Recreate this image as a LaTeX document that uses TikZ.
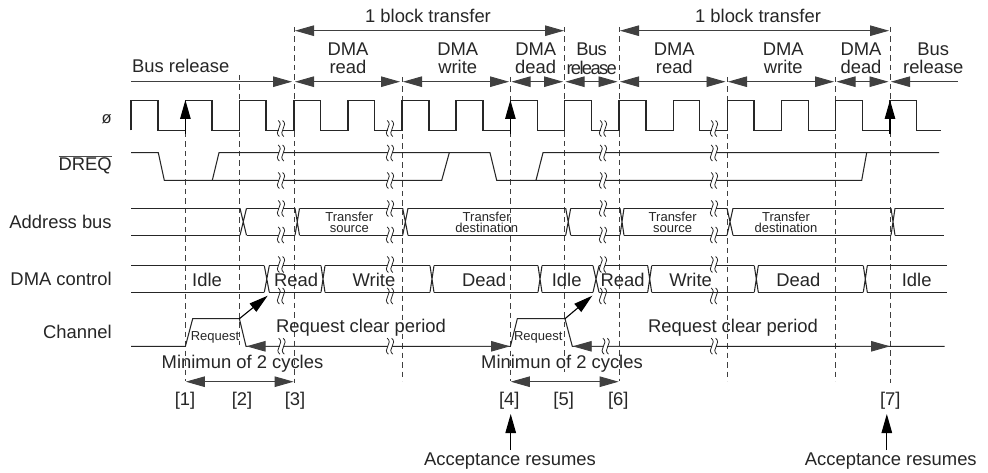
\documentclass[tikz,border=0pt]{standalone}
\usepackage{fontspec}
\setmainfont{Liberation Sans}
\usetikzlibrary{arrows.meta}
\tikzset{
  every node/.style={inner sep=0pt,outer sep=0pt,text=black!85},
  lbl/.style={font=\fontsize{18.4}{18}\selectfont,align=center},
  rlbl/.style={lbl,anchor=east},
  small/.style={font=\fontsize{13}{11}\selectfont,align=center},
  wave/.style={line width=1.05pt,line join=miter,black!85},
  guide/.style={line width=1pt,dash pattern=on 5.5pt off 4pt,black!75},
  shaft/.style={line width=0.9pt,black!75},
  head/.style={{Triangle[length=19pt,width=10.5pt]}-},
  tail/.style={-{Triangle[length=19pt,width=10.5pt]}},
  both/.style={{Triangle[length=19pt,width=10.5pt]}-{Triangle[length=19pt,width=10.5pt]}},
  brkline/.style={line width=0.8pt,black!85},
  brk/.pic={
    \fill[white] (-1.6,-3.5) rectangle (1.6,3.5);
    \foreach \d in {-2.2,2.2}{
      \draw[brkline] (\d-0.6,-8) .. controls (\d+2.2,-6) and (\d+1.8,-2.5) .. (\d,0) .. controls (\d-1.8,2.5) and (\d-2.2,6) .. (\d+0.6,8);
    }
  }
}
\newcommand{\busx}[4]{% x1 x2 top bottom
  \draw[wave] (#1,#3) -- (#2,#4) (#1,#4) -- (#2,#3);}
\begin{document}
\begin{tikzpicture}[x=1pt,y=-1pt]
\path[use as bounding box,fill=white] (0,0) rectangle (988,473);

% guides
\draw[guide] (185.4,132) -- (185.4,381);
\draw[guide] (239.4,75) -- (239.4,345);
\draw[guide] (294,27) -- (294,383);
\draw[guide] (402,77) -- (402,381);
\draw[guide] (510.4,77) -- (510.4,100);
\draw[guide] (510.4,132) -- (510.4,381);
\draw[guide] (564.7,27) -- (564.7,372);
\draw[guide] (619,27) -- (619,381);
\draw[guide] (727.3,77) -- (727.3,381);
\draw[guide] (835.7,77) -- (835.7,381);
\draw[guide] (890,27) -- (890,383);

% clock
\draw[wave] (131,130.3) -- (131,100.3) -- (158,100.3) -- (158,130.3) -- (185.4,130.3) -- (185.4,100.3) -- (212,100.3) -- (212,130.3) -- (239.4,130.3) -- (239.4,100.3) -- (266,100.3) -- (266,130.3) -- (294,130.3) -- (294,100.3) -- (320.7,100.3) -- (320.7,130.3) -- (348,130.3) -- (348,100.3) -- (374.7,100.3) -- (374.7,130.3) -- (402,130.3) -- (402,100.3) -- (429,100.3) -- (429,130.3) -- (456,130.3) -- (456,100.3) -- (483,100.3) -- (483,130.3) -- (510.4,130.3) -- (510.4,100.3) -- (537.3,100.3) -- (537.3,130.3) -- (564.7,130.3) -- (564.7,100.3) -- (591.7,100.3) -- (591.7,130.3) -- (619,130.3) -- (619,100.3) -- (646,100.3) -- (646,130.3) -- (673.3,130.3) -- (673.3,100.3) -- (699.3,100.3) -- (699.3,130.3) -- (727.3,130.3) -- (727.3,100.3) -- (754,100.3) -- (754,130.3) -- (781.7,130.3) -- (781.7,100.3) -- (808.3,100.3) -- (808.3,130.3) -- (835.7,130.3) -- (835.7,100.3) -- (862.7,100.3) -- (862.7,130.3) -- (890,130.3) -- (890,100.3) -- (916.7,100.3) -- (916.7,130.3) -- (940.7,130.3);

% DREQ
\draw[wave] (131,152.7) -- (158.3,152.7) -- (164.3,180.3) -- (212.3,180.3) -- (219,152.7) -- (490,152.7) -- (496.7,180.3) -- (536,180.3) -- (543,152.7) -- (939,152.7);
\draw[wave] (212.3,180.3) -- (441.7,180.3) -- (449.3,152.7);
\draw[wave] (536,180.3) -- (861.7,180.3) -- (866.7,152.7);

% address bus
\draw[wave] (131,208.3) -- (240,208.3);
\draw[wave] (131,235.3) -- (240,235.3);
\foreach \a/\b in {246.5/295,299.5/402.7,408/565.7,570.7/620,624/727,733/891,895/944}{
  \draw[wave] (\a,208.3) -- (\b,208.3) (\a,235.3) -- (\b,235.3);
}
\foreach \a/\b in {240/246.5,295/299.5,402.7/408,565.7/570.7,620/624,727/733,891/895}{
  \busx{\a}{\b}{208.3}{235.3}
}

% DMA control
\draw[wave] (131,265.7) -- (264.3,265.7) (131,292.3) -- (264.3,292.3);
\foreach \a/\b in {269.3/321,325/430,434/538,542/593,599/647.7,651.7/754.3,758.3/863.3,867.3/947.3}{
  \draw[wave] (\a,265.7) -- (\b,265.7) (\a,292.3) -- (\b,292.3);
}
\foreach \a/\b in {264.3/269.3,321/325,430/434,538/542,593/599,647.7/651.7,754.3/758.3,863.3/867.3}{
  \busx{\a}{\b}{265.7}{292.3}
}

% channel
\draw[wave] (131,346.3) -- (185.4,346.3) -- (192.7,318.7) -- (239.4,318.7) -- (246,346.3) -- (510.4,346.3) -- (517.3,318.7) -- (565,318.7) -- (572.3,346.3) -- (944.7,346.3);

% arrows
\draw[shaft,tail] (131,81.7) -- (292,81.7);
\draw[shaft,both] (295,81.7) -- (400,81.7);
\draw[shaft,both] (403,81.7) -- (509,81.7);
\draw[shaft,both] (511.5,81.7) -- (563,81.7);
\draw[shaft,both] (565.5,81.7) -- (617.5,81.7);
\draw[shaft,both] (620,81.7) -- (725.5,81.7);
\draw[shaft,both] (728,81.7) -- (834,81.7);
\draw[shaft,both] (836.5,81.7) -- (888.5,81.7);
\draw[shaft,head] (891,81.7) -- (958,81.7);
\draw[shaft,both] (295,30.7) -- (564,30.7);
\draw[shaft,both] (620,30.7) -- (889,30.7);
\draw[line width=1.1pt,tail] (185.4,134) -- (185.4,100);
\draw[line width=1.1pt,tail] (510.4,134) -- (510.4,100);
\draw[line width=1.1pt,tail] (890,134) -- (890,100);
\draw[line width=1.1pt,tail] (239.4,318.7) -- (267.7,295.7);
\draw[line width=1.1pt,tail] (565,318.7) -- (592.3,295.7);
\draw[shaft,head] (246.5,346.3) -- (300,346.3);
\draw[shaft,tail] (450,346.3) -- (510,346.3);
\draw[shaft,head] (572.7,346.3) -- (620,346.3);
\draw[shaft,tail] (840,346.3) -- (890,346.3);
\draw[shaft,both] (185.8,381.7) -- (293.6,381.7);
\draw[shaft,both] (510.8,381.7) -- (618.6,381.7);
\draw[line width=1.1pt,tail] (510.7,450) -- (510.7,414);
\draw[line width=1.1pt,tail] (886.8,450) -- (886.8,414);

% breaks
\foreach \x in {281,390,603,714}{
  \foreach \y in {128.5,153,180.5,208.5,235,264.5,296}{
    \pic at (\x,\y) {brk};
  }
}
\foreach \x in {281.5,390,605.7,714}{
  \pic at (\x,346.2) {brk};
}

% left labels
\node[rlbl,font=\fontsize{16.5}{16}\selectfont] (lphi) at (111.7,119) {ø};
\node[rlbl] (ldreq) at (111.7,166) {DREQ};
\draw[line width=0.9pt,black!70] (ldreq.west |- 0,156) -- (ldreq.east |- 0,156);
\node[rlbl] (laddr) at (111.7,221.7) {Address bus};
\node[rlbl] (lctl) at (111.7,279) {DMA control};
\node[rlbl] (lchan) at (111.7,331.7) {Channel};

% top labels
\node[lbl] (t1) at (428,15.5) {1 block transfer};
\node[lbl] (t2) at (758,15.5) {1 block transfer};
\node[lbl] (br1) at (180.7,66) {Bus release};
\node[lbl] (d1) at (348,58.5) {DMA\\read};
\node[lbl] (d2) at (457.7,58.5) {DMA\\write};
\node[lbl] (d3) at (535.7,58.5) {DMA\\dead};
\node[lbl] (br2a) at (591.7,49.5) {\addfontfeature{LetterSpace=-3.5}Bus};
\node[lbl] (br2b) at (591.7,67.5) {\addfontfeature{LetterSpace=-9}release};
\node[lbl] (d4) at (674.3,58.5) {DMA\\read};
\node[lbl] (d5) at (783.3,58.5) {DMA\\write};
\node[lbl] (d6) at (861,58.5) {DMA\\dead};
\node[lbl] (br3) at (933.3,58.5) {Bus\\release};

% address texts
\node[small] (a1) at (349.3,222) {Transfer\\source};
\node[small] (a2) at (486.7,222) {Transfer\\destination};
\node[small] (a3) at (672.7,222) {Transfer\\source};
\node[small] (a4) at (786,222) {Transfer\\destination};

% control texts
\node[lbl] (c1) at (207,280) {Idle};
\node[lbl] (c2) at (296,280) {Read};
\node[lbl] (c3) at (374,280) {Write};
\node[lbl] (c4) at (484,280) {Dead};
\node[lbl] (c5) at (566.7,280) {Idle};
\node[lbl] (c6) at (622.7,280) {Read};
\node[lbl] (c7) at (690.6,280) {Write};
\node[lbl] (c8) at (798.3,280) {Dead};
\node[lbl] (c9) at (916.7,280) {Idle};

% channel texts
\node[small] (r1) at (215,337.7) {Request};
\node[small] (r2) at (538.3,337.7) {Request};
\node[lbl] (p1) at (361,328) {Request clear period};
\node[lbl] (p2) at (733,328) {Request clear period};
\node[lbl] (m1) at (242.5,364) {Minimun of 2 cycles};
\node[lbl] (m2) at (562,364) {Minimun of 2 cycles};

% numbers
\node[lbl] (n1) at (185,400.7) {[1]};
\node[lbl] (n2) at (242,400.7) {[2]};
\node[lbl] (n3) at (295,400.7) {[3]};
\node[lbl] (n4) at (509.3,400.7) {[4]};
\node[lbl] (n5) at (563.7,400.7) {[5]};
\node[lbl] (n6) at (618.3,400.7) {[6]};
\node[lbl] (n7) at (890.3,400.7) {[7]};
\node[lbl] (ac1) at (510,460.7) {Acceptance resumes};
\node[lbl] (ac2) at (890.8,460.7) {Acceptance resumes};
\end{tikzpicture}
\end{document}
